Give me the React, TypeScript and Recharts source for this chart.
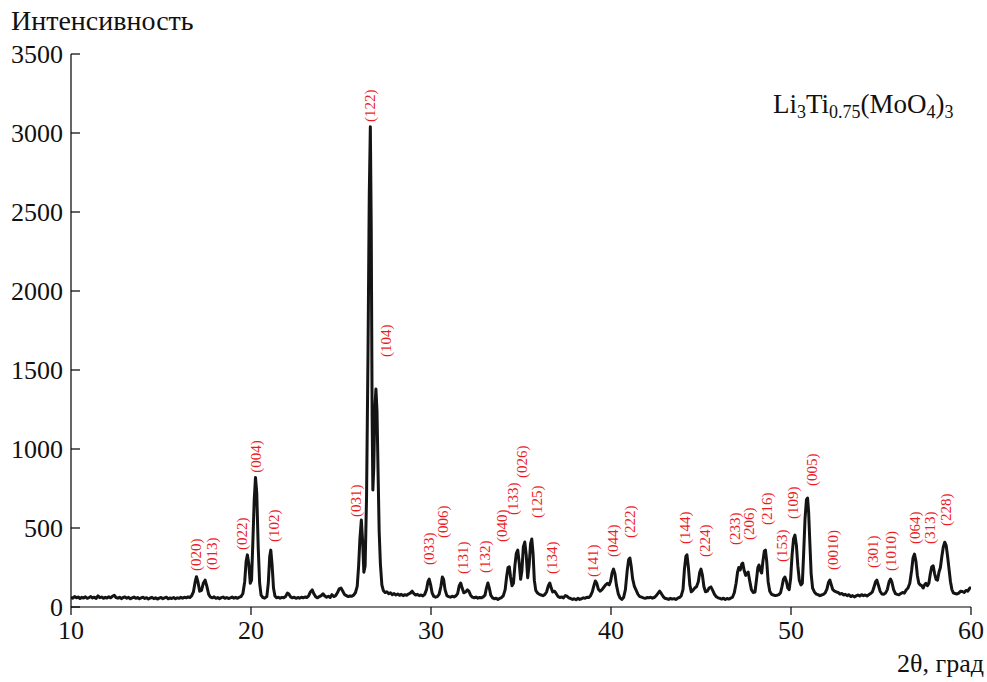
import React from 'react';
import { ComposedChart, Line, Scatter, XAxis, YAxis } from 'recharts';

// 2θ (deg), intensity pairs, segment by segment
const seg10to17 = [
  [10.0, 62], [10.1, 56], [10.2, 66], [10.3, 58], [10.4, 63], [10.5, 54], [10.6, 61], [10.7, 57], [10.8, 64], [10.9, 55],
  [11.0, 60], [11.1, 66], [11.2, 57], [11.3, 62], [11.4, 54], [11.5, 70], [11.6, 59], [11.7, 63], [11.8, 55], [11.9, 61],
  [12.0, 57], [12.1, 64], [12.2, 58], [12.3, 68], [12.4, 74], [12.5, 60], [12.6, 56], [12.7, 62], [12.8, 53], [12.9, 60],
  [13.0, 64], [13.1, 56], [13.2, 61], [13.3, 52], [13.4, 58], [13.5, 63], [13.6, 55], [13.7, 60], [13.8, 52], [13.9, 58],
  [14.0, 62], [14.1, 54], [14.2, 59], [14.3, 51], [14.4, 57], [14.5, 61], [14.6, 53], [14.7, 58], [14.8, 50], [14.9, 56],
  [15.0, 60], [15.1, 53], [15.2, 58], [15.3, 62], [15.4, 52], [15.5, 57], [15.6, 54], [15.7, 60], [15.8, 52], [15.9, 58],
  [16.0, 55], [16.1, 61], [16.2, 56], [16.3, 62], [16.4, 58], [16.5, 64], [16.6, 60],
];

const seg17to22 = [
  [16.7, 70], [16.8, 95], [16.9, 160], [16.97, 192], [17.05, 160], [17.15, 100], [17.25, 105], [17.35, 150], [17.45, 170],
  [17.55, 130], [17.65, 80], [17.75, 62], [17.85, 58], [17.95, 64], [18.05, 55], [18.15, 60], [18.25, 53], [18.35, 59],
  [18.45, 63], [18.55, 55], [18.65, 60], [18.75, 54], [18.85, 58], [18.95, 63], [19.05, 56], [19.15, 61], [19.25, 55],
  [19.35, 62], [19.45, 66], [19.55, 85], [19.65, 160], [19.73, 290], [19.8, 330], [19.88, 270], [19.96, 150], [20.03, 170],
  [20.1, 400], [20.18, 680], [20.25, 820], [20.32, 720], [20.4, 380], [20.48, 150], [20.56, 75], [20.66, 60], [20.76, 56],
  [20.88, 66], [20.96, 150], [21.04, 320], [21.1, 360], [21.17, 270], [21.25, 120], [21.33, 70], [21.42, 58], [21.52, 62],
];

const seg22to26 = [
  [21.62, 56], [21.72, 61], [21.82, 58], [21.92, 66], [22.02, 88], [22.1, 82], [22.2, 64], [22.3, 58], [22.4, 62], [22.5, 55],
  [22.6, 60], [22.7, 56], [22.8, 62], [22.9, 58], [23.0, 63], [23.1, 60], [23.2, 70], [23.3, 95], [23.4, 108], [23.5, 82],
  [23.6, 64], [23.7, 58], [23.8, 66], [23.9, 72], [24.0, 84], [24.1, 70], [24.2, 62], [24.3, 68], [24.4, 60], [24.5, 78],
  [24.6, 66], [24.7, 72], [24.8, 90], [24.9, 115], [25.0, 120], [25.1, 100], [25.2, 78], [25.3, 72], [25.4, 66], [25.5, 70],
  [25.6, 68], [25.7, 75], [25.8, 90],
];

const seg26to28 = [
  [25.9, 130], [25.98, 260], [26.05, 430], [26.13, 550], [26.2, 420], [26.27, 220], [26.34, 260], [26.42, 700], [26.5, 1600],
  [26.57, 2600], [26.63, 3040], [26.68, 2400], [26.73, 1200], [26.77, 740], [26.82, 880], [26.88, 1250], [26.94, 1380],
  [27.0, 1240], [27.06, 850], [27.12, 480], [27.19, 270], [27.27, 140], [27.35, 105], [27.45, 92], [27.55, 96],
];

const seg28to30 = [
  [27.65, 84], [27.75, 90], [27.85, 78], [27.95, 85], [28.05, 76], [28.15, 82], [28.25, 74], [28.35, 80], [28.45, 72],
  [28.55, 78], [28.65, 74], [28.75, 82], [28.85, 88], [28.95, 100], [29.05, 85], [29.15, 76], [29.25, 80], [29.35, 72],
  [29.45, 76], [29.55, 70], [29.65, 80], [29.75, 110],
];

const seg30to34 = [
  [29.83, 160], [29.9, 177], [29.98, 140], [30.06, 90], [30.15, 68], [30.25, 62], [30.35, 66], [30.45, 80], [30.55, 130],
  [30.63, 190], [30.7, 175], [30.78, 110], [30.88, 72], [30.98, 66], [31.08, 62], [31.18, 68], [31.28, 64], [31.38, 70],
  [31.48, 85], [31.57, 135], [31.65, 152], [31.73, 120], [31.82, 90], [31.92, 95], [32.02, 108], [32.1, 100], [32.2, 75],
  [32.3, 62], [32.4, 58], [32.5, 63], [32.6, 56], [32.7, 60], [32.8, 58], [32.9, 64], [33.0, 75], [33.08, 120], [33.16, 152],
  [33.24, 120], [33.32, 75], [33.42, 58], [33.52, 52], [33.62, 56], [33.72, 48], [33.82, 55], [33.92, 60], [34.02, 72],
];

const seg34to37 = [
  [34.12, 110], [34.2, 190], [34.28, 250], [34.35, 255], [34.42, 190], [34.5, 135], [34.58, 150], [34.66, 260], [34.74, 340],
  [34.82, 360], [34.9, 280], [34.98, 175], [35.05, 230], [35.13, 380], [35.21, 411], [35.29, 330], [35.37, 185], [35.45, 260],
  [35.53, 400], [35.6, 430], [35.67, 340], [35.74, 170], [35.82, 105], [35.92, 88], [36.02, 80], [36.12, 76], [36.22, 72],
  [36.32, 78], [36.42, 95], [36.52, 135], [36.6, 152], [36.68, 120], [36.76, 95], [36.86, 100], [36.96, 84],
];

const seg37to39 = [
  [37.06, 66], [37.16, 60], [37.26, 64], [37.36, 58], [37.46, 72], [37.56, 68], [37.66, 58], [37.76, 54], [37.86, 48],
  [37.96, 52], [38.06, 46], [38.16, 55], [38.26, 48], [38.36, 52], [38.46, 58], [38.56, 55], [38.66, 62], [38.76, 60],
  [38.86, 70], [38.96, 95],
];

const seg39to42 = [
  [39.05, 135], [39.13, 165], [39.21, 150], [39.3, 112], [39.4, 100], [39.5, 110], [39.6, 125], [39.7, 140], [39.8, 150],
  [39.9, 140], [39.98, 165], [40.06, 215], [40.14, 240], [40.22, 210], [40.3, 140], [40.4, 85], [40.5, 58], [40.6, 48],
  [40.7, 60], [40.8, 110], [40.9, 230], [40.98, 300], [41.05, 310], [41.12, 260], [41.2, 180], [41.3, 130], [41.4, 105],
  [41.5, 80], [41.6, 66], [41.7, 62], [41.8, 58], [41.9, 55], [42.0, 60], [42.1, 58], [42.2, 62],
];

const seg42to47 = [
  [42.3, 56], [42.4, 60], [42.5, 70], [42.6, 85], [42.7, 100], [42.8, 84], [42.9, 66], [43.0, 55], [43.1, 52], [43.2, 48],
  [43.3, 55], [43.4, 50], [43.5, 53], [43.6, 48], [43.7, 56], [43.8, 60], [43.9, 70], [44.0, 110], [44.08, 240], [44.16, 320],
  [44.22, 330], [44.3, 250], [44.38, 140], [44.46, 96], [44.55, 105], [44.65, 120], [44.75, 128], [44.85, 160], [44.93, 220],
  [45.0, 240], [45.08, 200], [45.16, 130], [45.25, 96], [45.35, 100], [45.45, 120], [45.55, 127], [45.65, 105], [45.75, 80],
  [45.85, 65], [45.95, 58], [46.05, 55], [46.15, 50], [46.25, 56], [46.35, 48], [46.45, 54], [46.55, 50], [46.65, 56],
  [46.75, 62], [46.85, 90],
];

const seg47to50 = [
  [46.95, 150], [47.03, 220], [47.1, 250], [47.18, 235], [47.26, 270], [47.32, 278], [47.4, 230], [47.48, 200], [47.56, 215],
  [47.62, 221], [47.7, 170], [47.8, 110], [47.9, 92], [48.0, 95], [48.08, 170], [48.16, 250], [48.22, 266], [48.3, 230],
  [48.37, 215], [48.44, 290], [48.52, 355], [48.58, 360], [48.65, 290], [48.73, 160], [48.82, 100], [48.92, 80], [49.02, 76],
  [49.12, 72], [49.22, 74], [49.32, 78], [49.42, 90],
];

const seg50to53 = [
  [49.5, 130], [49.58, 175], [49.66, 190], [49.74, 165], [49.82, 120], [49.9, 110], [49.98, 180], [50.06, 330], [50.14, 430],
  [50.22, 455], [50.3, 390], [50.38, 260], [50.46, 170], [50.55, 140], [50.63, 150], [50.7, 330], [50.78, 560], [50.86, 680],
  [50.92, 690], [50.98, 600], [51.05, 400], [51.12, 210], [51.2, 120], [51.3, 95], [51.4, 82], [51.5, 78], [51.6, 72],
  [51.7, 76], [51.8, 80], [51.9, 90], [52.0, 115], [52.08, 155], [52.16, 170], [52.24, 140], [52.32, 110], [52.42, 100],
  [52.52, 95], [52.62, 92],
];

const seg53to56 = [
  [52.72, 82], [52.82, 86], [52.92, 76], [53.02, 80], [53.12, 72], [53.22, 78], [53.32, 66], [53.42, 72], [53.52, 64],
  [53.62, 70], [53.72, 76], [53.82, 70], [53.92, 78], [54.02, 72], [54.12, 76], [54.22, 70], [54.32, 78], [54.42, 85],
  [54.52, 95], [54.62, 130], [54.7, 160], [54.77, 170], [54.85, 140], [54.95, 100], [55.05, 82], [55.15, 80], [55.25, 88],
  [55.35, 110], [55.45, 160], [55.53, 177], [55.6, 160], [55.7, 110], [55.8, 85], [55.9, 80], [56.0, 78], [56.1, 85],
  [56.2, 92], [56.3, 88], [56.4, 108], [56.5, 120],
];

const seg56to60 = [
  [56.6, 150], [56.7, 230], [56.78, 310], [56.86, 335], [56.94, 290], [57.02, 200], [57.1, 150], [57.18, 140], [57.26, 135],
  [57.34, 120], [57.42, 140], [57.5, 150], [57.58, 135], [57.66, 150], [57.74, 210], [57.82, 255], [57.9, 260], [57.98, 210],
  [58.06, 175], [58.14, 170], [58.22, 220], [58.3, 250], [58.38, 320], [58.46, 380], [58.54, 410], [58.62, 390], [58.7, 320],
  [58.78, 240], [58.86, 160], [58.94, 110], [59.02, 90], [59.12, 85], [59.22, 82], [59.32, 88], [59.42, 100], [59.52, 98],
  [59.62, 92], [59.72, 105], [59.82, 100], [59.92, 118], [60.0, 125],
];

// Miller indices, their 2θ position and the intensity level where each label starts
const labelText = [
  '(020)', '(013)', '(022)', '(004)', '(102)', '(031)', '(122)', '(104)', '(033)', '(006)', '(131)', '(132)',
  '(040)', '(133)', '(026)', '(125)', '(134)', '(141)', '(044)', '(222)', '(144)', '(224)', '(233)', '(206)',
  '(216)', '(153)', '(109)', '(005)', '(0010)', '(301)', '(1010)', '(064)', '(313)', '(228)',
];
const labelAngle = [
  16.94, 17.83, 19.48, 20.26, 21.3, 25.83, 26.61, 27.5, 29.89, 30.67, 31.78, 33.0,
  33.94, 34.56, 35.06, 35.89, 36.72, 39.0, 40.11, 41.06, 44.11, 45.22, 46.89, 47.67,
  48.67, 49.5, 50.11, 51.17, 52.33, 54.56, 55.56, 56.89, 57.72, 58.61,
];
const labelLevel = [
  228, 234, 361, 850, 411, 570, 3070, 1582, 266, 437, 209, 215,
  411, 582, 816, 563, 209, 190, 316, 437, 399, 316, 392, 424,
  519, 285, 557, 766, 234, 247, 228, 399, 399, 513,
];

const xTicks = [10, 20, 30, 40, 50, 60];
const yTicks = [0, 500, 1000, 1500, 2000, 2500, 3000, 3500];

const trace = [
  ...seg10to17, ...seg17to22, ...seg22to26, ...seg26to28, ...seg28to30, ...seg30to34, ...seg34to37,
  ...seg37to39, ...seg39to42, ...seg42to47, ...seg47to50, ...seg50to53, ...seg53to56, ...seg56to60,
].map(([a, i]) => ({ a, i }));

const labels = labelText.map((text, k) => ({ a: labelAngle[k], i: labelLevel[k], text }));

const FONT = "Liberation Serif, Times New Roman, serif";

const HklLabel = (props: any) => {
  const { cx, cy, payload } = props;
  if (cx == null || cy == null) return null;
  return (
    <text
      x={cx}
      y={cy}
      transform={`rotate(-90 ${cx} ${cy})`}
      fill="#ec1c24"
      fontSize={15}
      fontFamily={FONT}
      textAnchor="start"
      dominantBaseline="central"
    >
      {payload.text}
    </text>
  );
};

export default function App() {
  return (
    <div style={{ position: 'absolute', left: 0, top: 0, width: 987, height: 682, background: '#fff', fontFamily: FONT }}>
      <ComposedChart width={987} height={682} margin={{ top: 54, right: 16, bottom: 35, left: 11 }}>
        <XAxis
          dataKey="a"
          type="number"
          domain={[10, 60]}
          ticks={xTicks}
          allowDataOverflow
          stroke="#000"
          strokeWidth={1.2}
          tickSize={8}
          tickMargin={6}
          height={40}
          tick={{ fill: '#111', fontSize: 26, fontFamily: FONT }}
        />
        <YAxis
          type="number"
          domain={[0, 3500]}
          ticks={yTicks}
          allowDataOverflow
          stroke="#000"
          strokeWidth={1.2}
          tickSize={-9}
          tickMargin={17}
          width={60}
          tick={{ fill: '#111', fontSize: 26, fontFamily: FONT }}
        />
        <Line
          data={trace}
          dataKey="i"
          type="linear"
          dot={false}
          stroke="#141414"
          strokeWidth={3}
          strokeLinejoin="round"
          isAnimationActive={false}
        />
        <Scatter data={labels} dataKey="i" shape={HklLabel} isAnimationActive={false} />
      </ComposedChart>
      <svg width={987} height={682} style={{ position: 'absolute', left: 0, top: 0, pointerEvents: 'none' }}>
        <text x={11} y={30} fontSize={28} fontFamily={FONT} fill="#111">Интенсивность</text>
        <text x={984} y={672} fontSize={26} fontFamily={FONT} fill="#111" textAnchor="end">2θ, град</text>
        <text x={773} y={113} fontSize={27} fontFamily={FONT} fill="#111">
          Li<tspan fontSize={18} dy={5}>3</tspan>
          <tspan dy={-5}>Ti</tspan>
          <tspan fontSize={18} dy={5}>0.75</tspan>
          <tspan dy={-5}>(MoO</tspan>
          <tspan fontSize={18} dy={5}>4</tspan>
          <tspan dy={-5}>)</tspan>
          <tspan fontSize={18} dy={5}>3</tspan>
        </text>
      </svg>
    </div>
  );
}
